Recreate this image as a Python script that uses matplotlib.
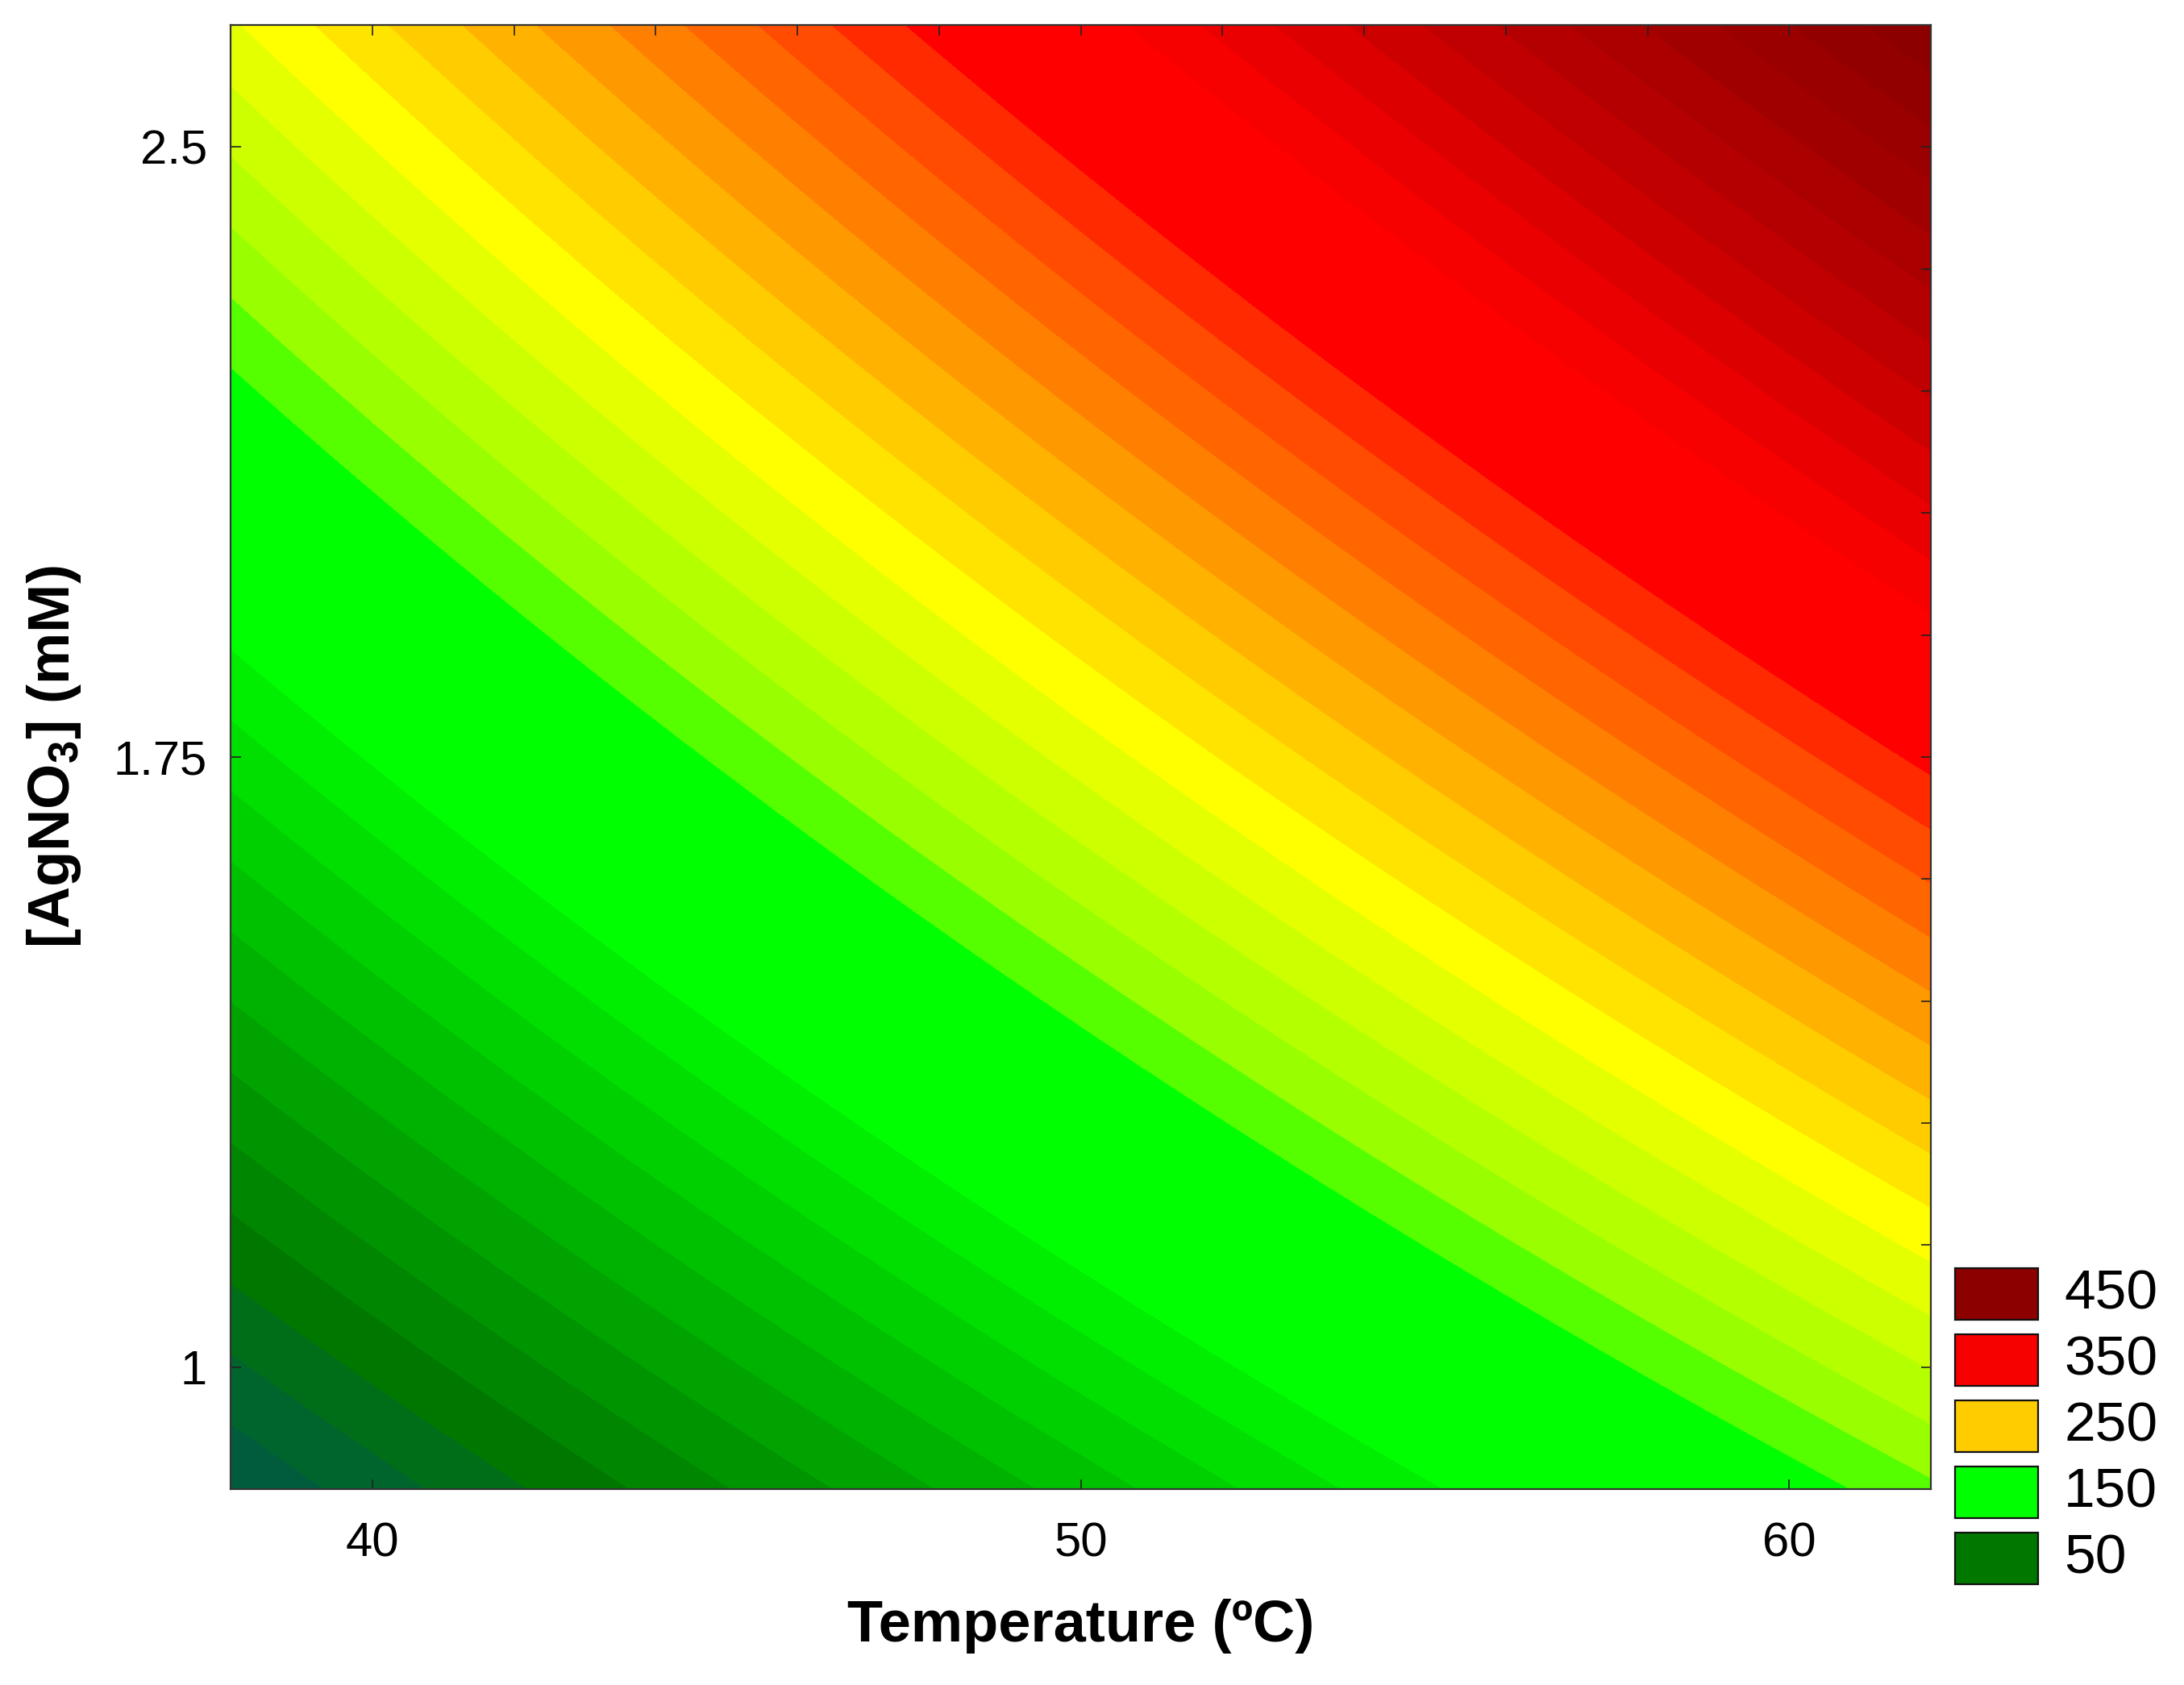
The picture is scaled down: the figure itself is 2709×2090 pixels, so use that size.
import matplotlib
matplotlib.use('Agg')
import matplotlib.pyplot as plt
import numpy as np
from matplotlib.patches import Rectangle
from matplotlib.ticker import FixedLocator

plt.rcParams['font.family'] = ['Liberation Sans', 'DejaVu Sans']
plt.rcParams['mathtext.fontset'] = 'custom'
plt.rcParams['mathtext.rm'] = 'Liberation Sans:bold'
plt.rcParams['mathtext.default'] = 'rm'

# fitted response surface: z = b0 + bT*t + bC*c + bTC*t*c
# with t = T - 50 (ºC) and c = [AgNO3] - 1.75 (mM)
t_center = 50.0
c_center = 1.75
b0 = 224.0
bT = 8.28
bC = 133.0
bTC = 1.46

t_range = [38, 62]
c_range = [0.85, 2.65]

x_ticks = [40, 50, 60]
y_ticks = [1, 1.75, 2.5]
y_ticklabels = ['1', '1.75', '2.5']

legend_values = [450, 350, 250, 150, 50]

# contour levels and the colour of each band
levels = np.arange(0, 490, 10)
band_colors = [
    '#004a55', '#00524a', '#005c3c', '#00652c', '#006e18',   # 0-40
    '#007800', '#008600', '#009400', '#00a300', '#00b200',   # 50-90
    '#00c100', '#00d000', '#00df00', '#00ee00', '#00ff00',   # 100-140
    '#00ff00', '#00ff00', '#00ff00', '#55ff00', '#99ff00',   # 150-190
    '#b4ff00', '#ccff00', '#e4ff00', '#ffff00', '#ffe400',   # 200-240
    '#ffcc00', '#ffb300', '#ff9900', '#ff8000', '#ff6600',   # 250-290
    '#ff4c00', '#ff2a00', '#ff0000', '#ff0000', '#ff0000',   # 300-340
    '#f70000', '#ea0000', '#dc0000', '#cd0000', '#c00000',   # 350-390
    '#b40000', '#aa0000', '#a10000', '#9a0000', '#930000',   # 400-440
    '#8d0000', '#880000', '#830000',                          # 450-470
]

T = np.linspace(t_range[0], t_range[1], 400)
C = np.linspace(c_range[0], c_range[1], 400)
TT, CC = np.meshgrid(T, C)
t = TT - t_center
c = CC - c_center
Z = b0 + bT * t + bC * c + bTC * t * c

W, H = 2709, 2090
fig = plt.figure(figsize=(W / 100, H / 100), dpi=100)
ax = fig.add_axes([286 / W, 1 - 1847 / H, (2395 - 286) / W, (1847 - 31) / H])

ax.contourf(TT, CC, Z, levels=levels, colors=band_colors)
ax.set_xlim(t_range)
ax.set_ylim(c_range)

ax.set_xticks(x_ticks)
ax.set_yticks(y_ticks)
ax.set_yticklabels(y_ticklabels)
ax.xaxis.set_minor_locator(FixedLocator(np.arange(38, 63, 2)))
ax.yaxis.set_minor_locator(FixedLocator(np.arange(0.85, 2.66, 0.15)))
ax.xaxis.remove_overlapping_locs = False
ax.yaxis.remove_overlapping_locs = False

ax.tick_params(which='major', direction='in', length=9, width=1.2,
               labelsize=43, top=False, right=False, color='#222222')
ax.tick_params(axis='x', which='major', pad=29)
ax.tick_params(axis='y', which='major', pad=21)
ax.tick_params(which='minor', direction='in', length=9, width=1.2,
               bottom=False, left=False, top=True, right=True, color='#222222')

for s in ax.spines.values():
    s.set_linewidth(1.6)
    s.set_color('#333333')

ax.set_xlabel('Temperature (ºC)', fontsize=52, fontweight='bold', va='center')
ax.xaxis.set_label_coords(0.5, (1847 - 2017) / 1816)
ax.set_ylabel('[AgNO$_3$] (mM)', fontsize=52, fontweight='bold', va='center')
ax.yaxis.set_label_coords((67 - 286) / 2109, 0.5)

# legend: colour boxes with values
for i, v in enumerate(legend_values):
    col = band_colors[list(levels).index(v)]
    top = 1573 + i * 82
    fig.patches.append(Rectangle((2425 / W, 1 - (top + 64) / H), 103 / W, 64 / H,
                                 transform=fig.transFigure, facecolor=col,
                                 edgecolor='#111111', linewidth=1.6))
    fig.text(2560 / W, 1 - (top + 32) / H, str(v), fontsize=50,
             ha='left', va='center')

fig.savefig('out.png', dpi=100)
